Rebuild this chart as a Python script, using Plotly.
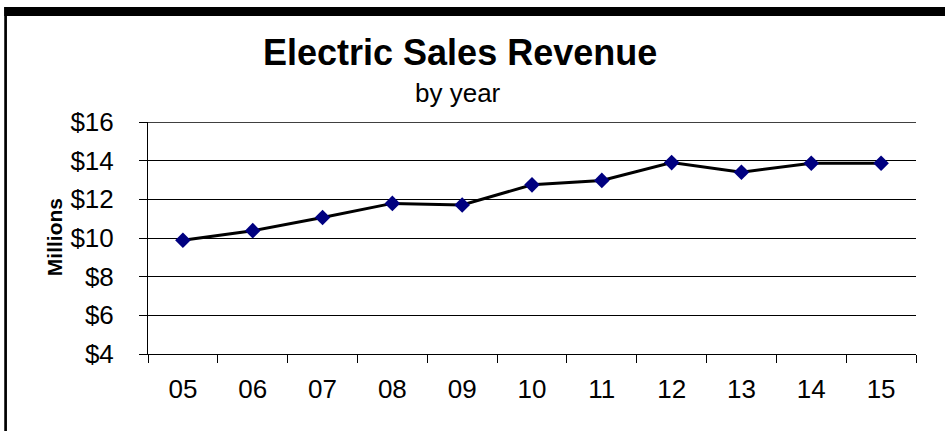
import plotly.graph_objects as go

# ---- data ----
years = ["05", "06", "07", "08", "09", "10", "11", "12", "13", "14", "15"]
revenue = [9.88, 10.38, 11.06, 11.79, 11.71, 12.75, 12.98, 13.90, 13.40, 13.87, 13.87]
y_ticks = [4, 6, 8, 10, 12, 14, 16]

title_text = "Electric Sales Revenue"
subtitle_text = "by year"
y_title = "Millions"

W, H = 945, 431
L, R, T, B = 148, 915.7, 122, 354  # plot area in pixels

def px(x):
    return (x - L) / (R - L)

def py(y):
    return (B - y) / (B - T)

FONT = "Arial, Liberation Sans, Helvetica, sans-serif"

fig = go.Figure()
fig.add_trace(go.Scatter(
    x=years, y=revenue, mode="lines+markers",
    line=dict(color="black", width=3),
    marker=dict(symbol="diamond", size=12, color="#000080",
                line=dict(width=0)),
    showlegend=False, hoverinfo="x+y",
))

fig.update_layout(
    width=W, height=H,
    margin=dict(l=L, r=W - R, t=T, b=H - B, pad=0),
    paper_bgcolor="white", plot_bgcolor="white",
    font=dict(family=FONT, color="black", size=26),
    xaxis=dict(
        type="category", tickson="boundaries", ticks="outside", ticklen=8,
        tickwidth=1, tickcolor="black", showline=True, linecolor="black",
        linewidth=1, showgrid=False, ticklabelstandoff=12,
        tickfont=dict(size=26, family=FONT),
        range=[-0.5, len(years) - 0.5], fixedrange=True,
    ),
    yaxis=dict(
        range=[y_ticks[0], y_ticks[-1]], tickvals=y_ticks,
        ticktext=[f"${v}" for v in y_ticks],
        ticks="outside", ticklen=8, tickwidth=1, tickcolor="black",
        showline=True, linecolor="black", linewidth=1,
        showgrid=True, gridcolor="black", gridwidth=1, zeroline=False,
        ticklabelstandoff=20, tickfont=dict(size=26, family=FONT),
        fixedrange=True,
    ),
    annotations=[
        dict(text=f"<b>{title_text}</b>", xref="paper", yref="paper",
             x=px(460), y=py(52.8), xanchor="center", yanchor="middle",
             showarrow=False, font=dict(size=36, family=FONT)),
        dict(text=subtitle_text, xref="paper", yref="paper",
             x=px(458), y=py(93), xanchor="center", yanchor="middle",
             showarrow=False, font=dict(size=26, family=FONT)),
        dict(text=f"<b>{y_title}</b>", xref="paper", yref="paper",
             x=px(54.7), y=py(237.5), xanchor="center", yanchor="middle",
             textangle=-90, showarrow=False, font=dict(size=21, family=FONT)),
    ],
    shapes=[
        # top gridline (at the upper range edge)
        dict(type="line", xref="paper", yref="y", x0=0, x1=1,
             y0=y_ticks[-1], y1=y_ticks[-1],
             line=dict(color="black", width=1.5), layer="above"),
        # frame pieces of the cropped chart border
        dict(type="rect", xref="paper", yref="paper",
             x0=px(4.3), x1=px(W + 5), y0=py(7), y1=py(16),
             fillcolor="black", line=dict(width=0), layer="above"),
        dict(type="rect", xref="paper", yref="paper",
             x0=px(4.3), x1=px(7), y0=py(7), y1=py(H + 5),
             fillcolor="black", line=dict(width=0), layer="above"),
    ],
)

fig.write_html(
    "out.html",
    config={"displayModeBar": False},
    post_script="document.body.style.margin='0';document.body.style.overflow='hidden';",
)
